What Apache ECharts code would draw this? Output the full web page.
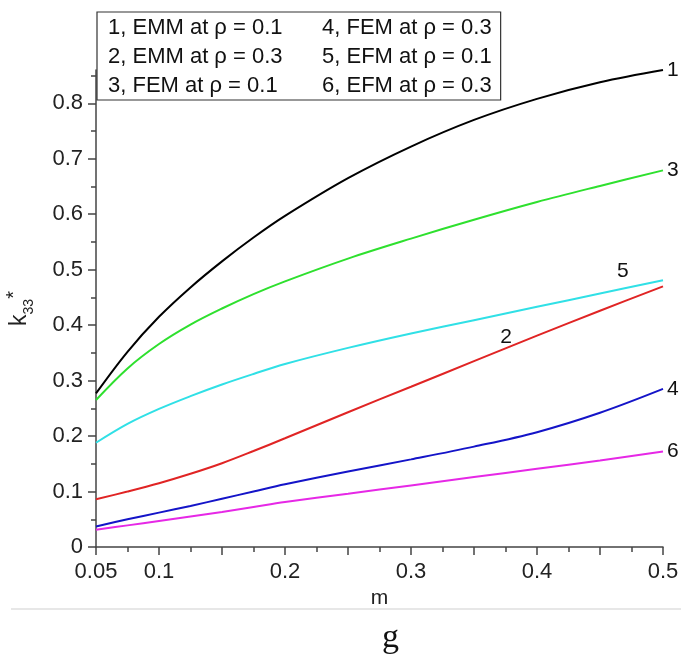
<!DOCTYPE html>
<html>
<head>
<meta charset="utf-8">
<script src="https://cdn.jsdelivr.net/npm/echarts@6/dist/echarts.min.js"></script>
<style>
html,body{margin:0;padding:0;background:#fff;}
#chart{width:681px;height:655px;}
</style>
</head>
<body>
<div id="chart"></div>
<script>
// ---- data ----
const mValues = [0.05, 0.075, 0.1, 0.125, 0.15, 0.175, 0.2, 0.25, 0.3, 0.35, 0.4, 0.45, 0.5];
const curve1 = [0.277, 0.352, 0.415, 0.468, 0.515, 0.558, 0.597, 0.665, 0.722, 0.770, 0.808, 0.838, 0.860];
const curve2 = [0.086, 0.100, 0.115, 0.132, 0.151, 0.173, 0.196, 0.243, 0.289, 0.335, 0.381, 0.426, 0.470];
const curve3 = [0.265, 0.322, 0.366, 0.401, 0.430, 0.456, 0.479, 0.520, 0.556, 0.590, 0.622, 0.651, 0.679];
const curve4 = [0.037, 0.050, 0.062, 0.074, 0.087, 0.100, 0.113, 0.136, 0.158, 0.181, 0.207, 0.242, 0.285];
const curve5 = [0.188, 0.222, 0.249, 0.272, 0.293, 0.312, 0.330, 0.359, 0.385, 0.409, 0.433, 0.457, 0.481];
const curve6 = [0.031, 0.039, 0.047, 0.055, 0.063, 0.072, 0.081, 0.096, 0.111, 0.126, 0.141, 0.156, 0.172];
const seriesNames = [
  '1, EMM at \u03c1 = 0.1',
  '2, EMM at \u03c1 = 0.3',
  '3, FEM at \u03c1 = 0.1',
  '4, FEM at \u03c1 = 0.3',
  '5, EFM at \u03c1 = 0.1',
  '6, EFM at \u03c1 = 0.3'
];
const curveTags = ['1', '2', '3', '4', '5', '6'];
const xTickLabels = ['0.05', '0.1', '0.2', '0.3', '0.4', '0.5'];
const yTickLabels = ['0', '0.1', '0.2', '0.3', '0.4', '0.5', '0.6', '0.7', '0.8'];
const captionText = 'g';

// ---- styles ----
const FONT = 'Liberation Sans';
const colors = ['#000000', '#e02424', '#2ee02e', '#1414c8', '#30e0e6', '#e628e6'];
const curves = [curve1, curve2, curve3, curve4, curve5, curve6];

function pairs(arr) { return mValues.map((m, i) => [m, arr[i]]); }

const series = curves.map((c, i) => {
  const s = {
    name: seriesNames[i],
    type: 'line',
    data: pairs(c),
    smooth: 0.35,
    showSymbol: false,
    symbol: 'none',
    lineStyle: { color: colors[i], width: 2 },
    itemStyle: { color: colors[i] },
    emphasis: { disabled: true },
    z: 3
  };
  const tagStyle = { fontFamily: FONT, fontSize: 21, color: '#111' };
  if (i === 1) {
    // label "2" beside the curve
    s.showSymbol = true;
    s.symbol = 'circle';
    s.symbolSize = 0;
    s.data = pairs(c).map((p, j) => j === 10 ? {
      value: p,
      label: Object.assign({ show: true, position: 'left', distance: 25, offset: [0, 2], formatter: curveTags[i] }, tagStyle)
    } : p);
  } else if (i === 4) {
    s.endLabel = Object.assign({ show: true, formatter: curveTags[i], offset: [-50, -9], distance: 4 }, tagStyle);
  } else {
    s.endLabel = Object.assign({ show: true, formatter: curveTags[i], distance: 4 }, tagStyle);
  }
  return s;
});

const chart = echarts.init(document.getElementById('chart'), null, { renderer: 'canvas' });
chart.setOption({
  animation: false,
  backgroundColor: '#ffffff',
  title: {
    text: captionText,
    left: 377,
    top: 616,
    textStyle: { fontFamily: 'Liberation Serif', fontSize: 34, fontWeight: 'normal', color: '#111' }
  },
  grid: { left: 96, right: 18, top: 70, bottom: 108, outerBoundsMode: 'none', containLabel: false },
  legend: {
    orient: 'vertical',
    left: 97,
    top: 12,
    height: 95,
    itemWidth: 0,
    itemHeight: 0,
    itemGap: 0,
    padding: [1, 9, 0, 5],
    borderColor: '#333',
    borderWidth: 1.2,
    backgroundColor: '#fff',
    selectedMode: false,
    itemStyle: { opacity: 0 },
    lineStyle: { opacity: 0 },
    textStyle: { fontFamily: FONT, fontSize: 22, color: '#111', lineHeight: 29 },
    data: seriesNames.map((n, i) => i < 3
      ? { name: n, textStyle: { width: 208, fontFamily: FONT, fontSize: 22, color: '#111', lineHeight: 29 } }
      : { name: n })
  },
  xAxis: {
    type: 'value',
    min: 0.05,
    max: 0.5,
    interval: 0.05,
    name: 'm',
    nameLocation: 'middle',
    nameGap: 40,
    nameTextStyle: { fontFamily: FONT, fontSize: 21, color: '#222' },
    splitLine: { show: false },
    axisLine: { show: true, lineStyle: { color: '#444', width: 1.5 } },
    axisTick: { show: true, length: 8, lineStyle: { color: '#444', width: 1.5 } },
    minorTick: { show: true, splitNumber: 2, length: 5, lineStyle: { color: '#444', width: 1.5 } },
    minorSplitLine: { show: false },
    axisLabel: {
      margin: 14,
      fontFamily: FONT,
      fontSize: 22,
      color: '#222',
      showMinLabel: true,
      showMaxLabel: true,
      formatter: function (v) {
        const t = String(Math.round(v * 1000) / 1000);
        return xTickLabels.indexOf(t) >= 0 ? t : '';
      }
    }
  },
  yAxis: {
    type: 'value',
    min: 0,
    max: 0.86,
    interval: 0.1,
    name: '{k|k}{s|33}{p|*}',
    nameLocation: 'middle',
    nameRotate: 90,
    nameGap: 60,
    nameTextStyle: {
      rich: {
        k: { fontFamily: FONT, fontSize: 23, color: '#222', lineHeight: 32 },
        s: { fontFamily: FONT, fontSize: 14, color: '#222', verticalAlign: 'bottom', lineHeight: 32 },
        p: { fontFamily: FONT, fontSize: 20, color: '#222', verticalAlign: 'top', lineHeight: 32 }
      }
    },
    splitLine: { show: false },
    axisLine: { show: true, lineStyle: { color: '#444', width: 1.5 } },
    axisTick: { show: true, length: 8, lineStyle: { color: '#444', width: 1.5 },
      customValues: yTickLabels.map(Number) },
    minorTick: { show: true, splitNumber: 2, length: 5, lineStyle: { color: '#444', width: 1.5 } },
    minorSplitLine: { show: false },
    axisLabel: {
      margin: 13,
      fontFamily: FONT,
      fontSize: 22,
      color: '#222',
      formatter: function (v) {
        const t = String(Math.round(v * 1000) / 1000);
        return yTickLabels.indexOf(t) >= 0 ? t : '';
      }
    }
  },
  graphic: [{
    type: 'line',
    silent: true,
    shape: { x1: 11, y1: 609, x2: 681, y2: 609 },
    style: { stroke: '#cfcfcf', lineWidth: 1 }
  }],
  series: series
});
</script>
</body>
</html>
